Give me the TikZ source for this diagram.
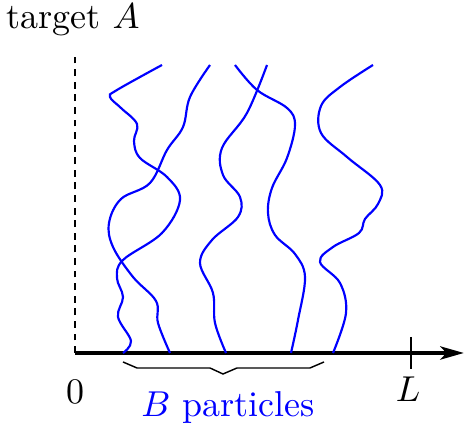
\documentclass[tikz,border=0pt]{standalone}
\usepackage{amsmath,amssymb}
\usepackage{tikz}
\usetikzlibrary{arrows.meta,positioning}

\begin{document}
\begin{tikzpicture}[>=Stealth,x=2.78pt,y=2.78pt,
    walk/.style={blue,line width=0.6pt},
    axis/.style={line width=1.2pt,-{Stealth[length=6.5pt,width=3.6pt,inset=1.6pt]}}]
  \useasboundingbox (-7.5,-7.1) rectangle (38.9,35.3);

  % Axes
  \coordinate (O) at (0,0);
  \coordinate (top) at (0,30.1);
  \coordinate (end) at (38.9,0);
  \draw[dash pattern=on 1.9pt off 1.6pt] (O) -- (top);
  \draw[axis] (O) -- (end);
  \node (target) at (-0.2,33.3) {target $A$};
  \node (zero) at (0,-3.9) {$0$};

  % Tick at L
  \coordinate (Ltop) at (33.6,1.6);
  \coordinate (Lbot) at (33.6,-1.6);
  \draw (Ltop) -- (Lbot);
  \node (L) at (33.3,-3.6) {$L$};

  % Sample paths of the particles
  \draw[walk] plot[smooth,tension=0.6] coordinates {
    (4.8,0) (5.6,1.2) (4.3,3.6) (4.8,5.6) (4.2,7.5) (4.8,9.3) (8.7,12.0)
    (10.5,15.3) (9.2,17.6) (6.5,19.5) (5.9,21.2) (6.2,22.9) (4.6,24.5)
    (3.5,25.6) (4.2,26.3) (8.7,28.8)};
  \draw[walk] plot[smooth,tension=0.6] coordinates {
    (9.5,0) (8.3,3.0) (8.1,5.2) (5.8,7.6) (3.8,10.6) (3.4,13.0) (4.6,15.4)
    (7.5,17.0) (9.2,20.3) (10.8,22.6) (11.5,25.6) (13.5,28.8)};
  \draw[walk] plot[smooth,tension=0.6] coordinates {
    (15.1,0) (14.0,3.0) (13.8,6.0) (12.5,9.0) (13.7,11.3) (16.3,13.6)
    (16.5,15.6) (14.8,17.8) (14.7,20.5) (17.2,24.0) (19.2,28.8)};
  \draw[walk] plot[smooth,tension=0.6] coordinates {
    (21.6,0) (22.3,3.3) (23.0,7.6) (22.0,9.9) (20.0,11.8) (19.3,14.0)
    (19.7,16.5) (21.2,19.5) (22.0,22.8) (21.2,24.5) (18.2,26.3) (16.0,28.8)};
  \draw[walk] plot[smooth,tension=0.6] coordinates {
    (25.8,0) (27.1,4.0) (26.5,7.0) (24.5,9.1) (25.8,10.6) (28.4,12.0)
    (29.0,13.4) (30.3,14.9) (30.5,16.8) (27.2,19.6) (24.6,22.0) (24.6,24.7)
    (26.5,26.6) (29.8,28.8)};

  % Brace under the starting points
  \coordinate (tip) at (14.8,-2.1);
  \draw[thin] (4.8,-0.9) -- (6.2,-1.5) -- (13.5,-1.5) -- (tip)
    -- (16.2,-1.5) -- (23.5,-1.5) -- (24.9,-0.9);
  \node[blue] (particles) at (15.3,-5.5) {$B$ particles};
\end{tikzpicture}
\end{document}
